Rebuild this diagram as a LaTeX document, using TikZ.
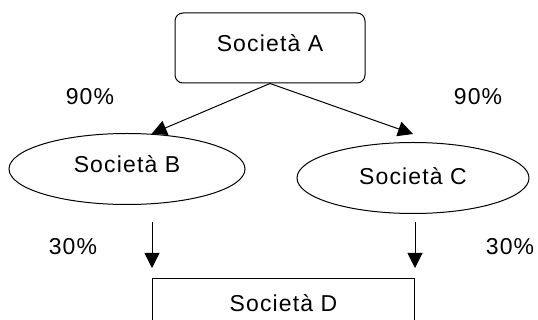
\documentclass[tikz,border=0pt]{standalone}
\usepackage{fontspec}
\setmainfont{Liberation Sans}[LetterSpace=5]
\usetikzlibrary{arrows.meta,shapes.geometric}
\begin{document}
\begin{tikzpicture}[x=1pt,y=-1pt,
  lbl/.style={font=\fontsize{23}{26}\selectfont, inner sep=0pt},
  boxa/.style={draw, line width=1pt, rounded corners=8pt, minimum width=190pt, minimum height=70pt, lbl, text height=12pt, text depth=5pt},
  ell/.style={draw, line width=1pt, ellipse, minimum height=71pt, lbl},
  boxd/.style={draw, line width=1pt, minimum width=262pt, minimum height=50pt, lbl, text height=17pt, text depth=0pt},
  arr/.style={line width=1pt, -{Triangle[length=15pt,width=15pt]}}]
\useasboundingbox (0,0) rectangle (538,320);
\clip (0,0) rectangle (538,320);
\node[boxa] (A) at (270,48) {Società A};
\node[ell, minimum width=236pt, text height=12pt, text depth=5pt] (B) at (127,169) {Società B};
\node[ell, minimum width=232pt, text height=14pt, text depth=0pt] (C) at (413,178) {Società C};
\node[boxd, anchor=north west] (D) at (152,278) {Società D};
\node[lbl] (p1) at (90,97) {90\%};
\node[lbl] (p2) at (478,97) {90\%};
\node[lbl] (p3) at (73,247) {30\%};
\node[lbl] (p4) at (510,247) {30\%};
\draw[arr] (A.south) -- (B.55);
\draw[arr] (A.south) -- ([yshift=8pt]C.north);
\draw[arr] ([yshift=56pt]D.north west) -- ([yshift=10pt]D.north west);
\draw[arr] ([yshift=56pt]D.north east) -- ([yshift=10pt]D.north east);
\end{tikzpicture}
\end{document}
